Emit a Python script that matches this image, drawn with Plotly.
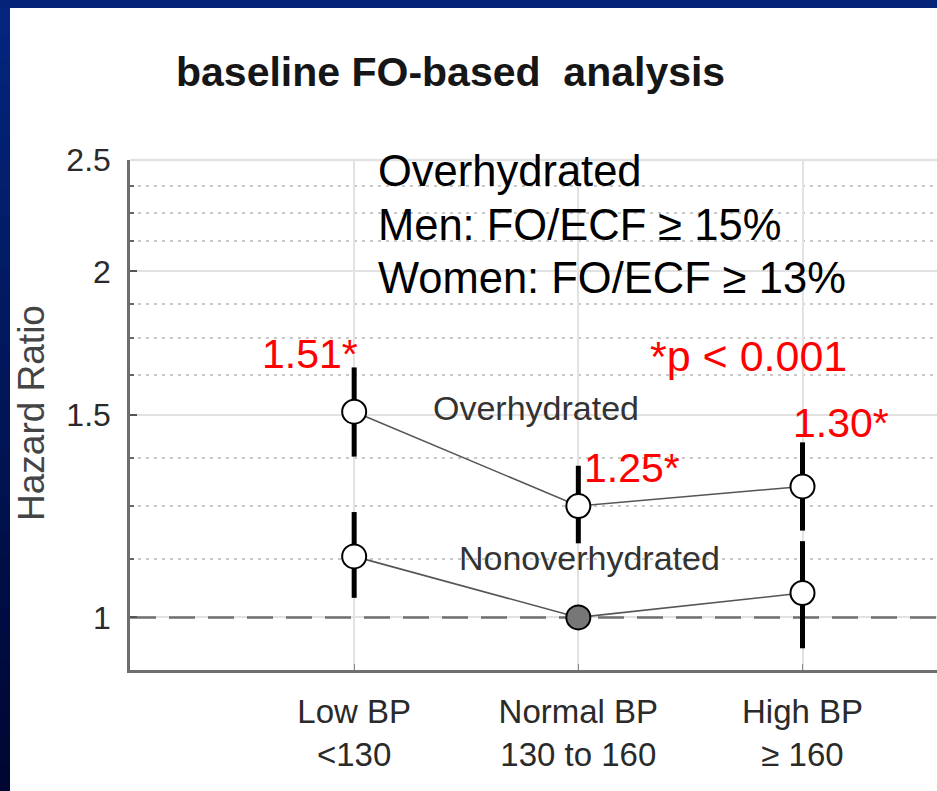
import math
import plotly.graph_objects as go

# ---------------- data ----------------
categories = [1, 2, 3]
cat_labels = ["Low BP<br><130", "Normal BP<br>130 to 160", "High BP<br>≥ 160"]

over_hr = [1.51, 1.25, 1.30]
over_lo = [1.38, 1.16, 1.19]
over_hi = [1.65, 1.355, 1.42]

non_hr = [1.13, 1.00, 1.05]
non_lo = [1.04, None, 0.94]
non_hi = [1.235, None, 1.165]

reference_hr = 1.0
x_span = [0, 3.6]

y_ticks = [1, 1.5, 2, 2.5]
y_tick_text = ["1", "1.5", "2", "2.5"]
y_minor = [1.125, 1.25, 1.375, 1.625, 1.75, 1.875, 2.125, 2.25, 2.375]

definition_lines = ["Overhydrated", "Men: FO/ECF ≥ 15%", "Women: FO/ECF ≥ 13%"]

FONT = "Liberation Sans, Arial, Helvetica, sans-serif"

# plot-area geometry in pixels (for paper conversions of free text)
L, T, B, W, H = 130, 160, 121, 937, 791
PW, PH = W - L, H - T - B


def px_x(px):
    return (px - L) / PW


def px_y(py):
    return (H - B - py) / PH


def err_plus(hr, hi):
    return [(h - v) if h is not None else 0 for v, h in zip(hr, hi)]


def err_minus(hr, lo):
    return [(v - l) if l is not None else 0 for v, l in zip(hr, lo)]


fig = go.Figure()

# dashed reference line at HR = 1
fig.add_trace(go.Scatter(
    x=x_span, y=[reference_hr, reference_hr], mode="lines", hoverinfo="skip",
    line=dict(color="#707070", width=2.5, dash="26px,13px"),
))

fig.add_trace(go.Scatter(
    x=categories, y=over_hr, mode="lines+markers", name="Overhydrated",
    line=dict(color="#555555", width=1.6),
    marker=dict(size=24, color="white", line=dict(color="black", width=2)),
    error_y=dict(type="data", symmetric=False,
                 array=err_plus(over_hr, over_hi),
                 arrayminus=err_minus(over_hr, over_lo),
                 color="black", thickness=5, width=0),
))

fig.add_trace(go.Scatter(
    x=categories, y=non_hr, mode="lines+markers", name="Nonoverhydrated",
    line=dict(color="#555555", width=1.6),
    marker=dict(size=24, color=["white", "#777777", "white"],
                line=dict(color="black", width=2)),
    error_y=dict(type="data", symmetric=False,
                 array=err_plus(non_hr, non_hi),
                 arrayminus=err_minus(non_hr, non_lo),
                 color="black", thickness=5, width=0),
))

shapes = []
# light top frame line of the axes box
shapes.append(dict(type="line", xref="paper", yref="paper", x0=0, x1=1, y0=1, y1=1,
                   line=dict(color="#e2e2e2", width=2.5), layer="below"))

# dark blue slide frame (top and left)
shapes.append(dict(type="rect", xref="paper", yref="paper",
                   x0=px_x(-5), x1=px_x(W + 5), y0=px_y(8), y1=px_y(-5),
                   fillcolor="rgb(4,36,120)", line=dict(width=0), layer="above"))
nseg = 30
for i in range(nseg):
    t = i / (nseg - 1)
    r = int(4 * (1 - t))
    g = int(38 * (1 - t) + 6 * t)
    b = int(125 * (1 - t) + 50 * t)
    y0p = 8 + (H - 8) * i / nseg
    y1p = 8 + (H - 8) * (i + 1) / nseg + 1
    shapes.append(dict(type="rect", xref="paper", yref="paper",
                       x0=px_x(-5), x1=px_x(10), y0=px_y(y1p), y1=px_y(y0p),
                       fillcolor=f"rgb({r},{g},{b})", line=dict(width=0), layer="above"))

annotations = []
# title
annotations.append(dict(xref="paper", yref="paper", x=px_x(450), y=px_y(72),
                        xanchor="center", yanchor="middle", showarrow=False,
                        text="<b>baseline FO-based  analysis</b>",
                        font=dict(family=FONT, size=41, color="#161616")))
# y-axis title
annotations.append(dict(xref="paper", yref="paper", x=px_x(31), y=px_y(413),
                        xanchor="center", yanchor="middle", showarrow=False,
                        textangle=-90, text="Hazard Ratio",
                        font=dict(family=FONT, size=37, color="#444444")))
# definition block (one annotation per line for exact line pitch)
for i, line in enumerate(definition_lines):
    annotations.append(dict(xref="paper", yref="paper", x=px_x(376),
                            y=px_y(171 + 53.5 * i),
                            xanchor="left", yanchor="middle", align="left",
                            showarrow=False, text=line,
                            font=dict(family=FONT, size=43.5, color="black")))
# p-value note
annotations.append(dict(xref="paper", yref="paper", x=px_x(648), y=px_y(356),
                        xanchor="left", yanchor="middle", showarrow=False,
                        text="*p < 0.001",
                        font=dict(family=FONT, size=43, color="#ff0000")))
# series labels
annotations.append(dict(xref="paper", yref="paper", x=px_x(536), y=px_y(408),
                        xanchor="center", yanchor="middle", showarrow=False,
                        text="Overhydrated",
                        font=dict(family=FONT, size=34, color="#333333")))
annotations.append(dict(xref="paper", yref="paper", x=px_x(589), y=px_y(558),
                        xanchor="center", yanchor="middle", showarrow=False,
                        text="Nonoverhydrated",
                        font=dict(family=FONT, size=34, color="#333333")))
# red value labels attached to the top of each overhydrated CI
lab_anchor = ["right", "left", "left"]
lab_xshift = [6, 4, -12]
lab_yshift = [13, -2, 19]
for xc, v, hi, xa, xs, ys in zip(categories, over_hr, over_hi, lab_anchor, lab_xshift, lab_yshift):
    annotations.append(dict(xref="x", yref="y", x=xc, y=math.log10(hi),
                            xanchor=xa, yanchor="middle", xshift=xs, yshift=ys,
                            showarrow=False, text=f"{v:.2f}*",
                            font=dict(family=FONT, size=41, color="#ff0000")))

fig.update_layout(
    width=W, height=H, autosize=False,
    margin=dict(l=L, r=0, t=T, b=B, pad=0),
    paper_bgcolor="white", plot_bgcolor="white",
    showlegend=False,
    shapes=shapes, annotations=annotations,
    font=dict(family=FONT),
    xaxis=dict(range=x_span, tickvals=categories, ticktext=cat_labels,
               showgrid=True, gridcolor="#e2e2e2", gridwidth=2,
               zeroline=False, showline=True, linecolor="#6e6e6e", linewidth=2.5,
               ticks="inside", ticklen=6, tickcolor="#888888", tickwidth=1,
               ticklabelstandoff=11,
               tickfont=dict(family=FONT, size=33, color="#2a2a2a")),
    yaxis=dict(type="log", range=[math.log10(0.9), math.log10(2.5)],
               tickvals=y_ticks, ticktext=y_tick_text,
               showgrid=True, gridcolor="#e2e2e2", gridwidth=2,
               zeroline=False, showline=True, linecolor="#6e6e6e", linewidth=2.5,
               ticks="inside", ticklen=7, tickcolor="#555555", tickwidth=2,
               ticklabelstandoff=10,
               tickfont=dict(family=FONT, size=32, color="#2a2a2a"),
               minor=dict(tickvals=y_minor, ticks="inside", ticklen=4,
                          tickcolor="#666666", tickwidth=1.5,
                          showgrid=True, gridcolor="#c8c8c8", gridwidth=1.5,
                          griddash="3px,5px")),
)

fig.write_html("out.html")
